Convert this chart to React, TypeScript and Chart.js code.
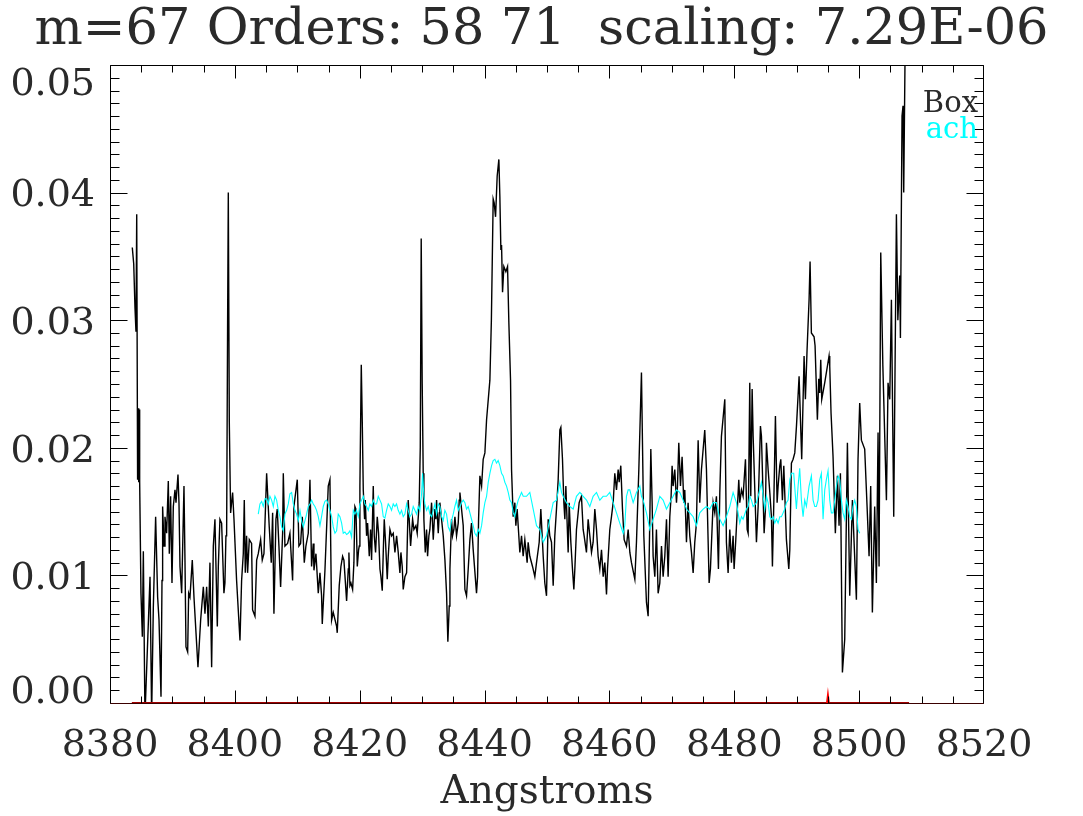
import React, { useEffect, useRef } from 'react';
import { Chart, registerables } from 'chart.js';

Chart.register(...registerables);

const titleText = 'm=67 Orders: 58 71  scaling: 7.29E-06';
const xAxisTitle = 'Angstroms';
const xMin = 8380;
const xMax = 8520;
const xMajorStep = 20;
const xMinorStep = 5;
const yMin = 0;
const yMax = 0.05;
const yMajorStep = 0.01;
const yMinorStep = 0.001;
const yTickValues = [0, 0.01, 0.02, 0.03, 0.04, 0.05];
const yTickLabels = ['0.00', '0.01', '0.02', '0.03', '0.04', '0.05'];
const seriesLabels = ['Box', 'ach'];
const seriesColors = ['#000000', '#00ffff'];
const maskColor = '#a00000';
const maskSpikeColor = '#ff0000';

const boxWave = [
  8383.57, 8383.80, 8384.00, 8384.16, 8384.28, 8384.42, 8384.50, 8384.60, 8384.70, 8384.75,
  8384.96, 8385.18, 8385.34, 8385.60, 8386.41, 8386.67, 8386.94, 8387.31, 8387.63, 8387.85,
  8388.01, 8388.17, 8388.33, 8388.43, 8388.65, 8388.81, 8389.07, 8389.34, 8389.50, 8389.71,
  8389.93, 8390.14, 8390.41, 8390.57, 8390.89, 8391.05, 8391.21, 8391.48, 8391.85, 8392.01,
  8392.17, 8392.44, 8392.60, 8392.81, 8393.18, 8393.45, 8394.09, 8394.52, 8394.95, 8395.21,
  8395.48, 8395.75, 8396.01, 8396.28, 8396.55, 8396.81, 8397.19, 8397.35, 8397.61, 8397.88,
  8398.25, 8398.41, 8398.57, 8398.68, 8398.84, 8398.95, 8399.11, 8399.32, 8399.64, 8399.86,
  8400.28, 8400.82, 8401.08, 8401.35, 8401.51, 8401.67, 8401.88, 8402.04, 8402.31, 8402.68,
  8402.84, 8403.22, 8403.49, 8403.75, 8404.13, 8404.39, 8404.66, 8405.09, 8405.51, 8405.83,
  8406.05, 8406.26, 8406.58, 8406.79, 8407.06, 8407.33, 8407.65, 8407.76, 8408.02, 8408.45,
  8408.82, 8409.25, 8409.46, 8410.00, 8410.26, 8410.53, 8410.80, 8411.12, 8411.38, 8411.76,
  8412.03, 8412.29, 8412.56, 8412.67, 8412.99, 8413.36, 8413.63, 8413.89, 8414.00, 8414.43,
  8414.96, 8415.23, 8415.50, 8415.76, 8416.30, 8416.40, 8416.72, 8416.99, 8417.26, 8417.47,
  8417.74, 8417.90, 8418.17, 8418.27, 8418.43, 8418.59, 8418.86, 8419.07, 8419.23, 8419.39,
  8419.50, 8419.61, 8419.82, 8419.93, 8420.03, 8420.25, 8420.41, 8420.57, 8420.78, 8420.89,
  8421.10, 8421.26, 8421.53, 8421.74, 8421.90, 8422.17, 8422.33, 8422.54, 8422.81, 8423.02,
  8423.24, 8423.40, 8423.61, 8423.77, 8423.93, 8424.14, 8424.41, 8424.57, 8424.84, 8425.10,
  8425.37, 8425.64, 8425.91, 8426.17, 8426.44, 8426.60, 8426.81, 8426.97, 8427.24, 8427.51,
  8427.77, 8428.04, 8428.15, 8428.47, 8428.68, 8429.00, 8429.21, 8429.53, 8429.70, 8429.85,
  8430.01, 8430.17, 8430.28, 8430.50, 8430.71, 8430.87, 8431.08, 8431.24, 8431.51, 8431.78,
  8432.04, 8432.20, 8432.31, 8432.58, 8432.74, 8432.84, 8433.11, 8433.38, 8433.65, 8433.91,
  8434.12, 8434.34, 8434.45, 8434.71, 8434.87, 8435.09, 8435.25, 8435.51, 8435.78, 8435.94,
  8436.05, 8436.31, 8436.58, 8436.85, 8437.11, 8437.38, 8437.65, 8437.91, 8438.18, 8438.71,
  8438.88, 8439.04, 8439.25, 8439.52, 8439.78, 8440.05, 8440.32, 8440.85, 8441.09, 8441.38,
  8441.54, 8441.76, 8442.02, 8442.29, 8442.45, 8442.61, 8442.72, 8442.88, 8443.09, 8443.41,
  8443.68, 8443.89, 8444.16, 8444.32, 8444.58, 8444.85, 8445.01, 8445.22, 8445.65, 8445.92,
  8446.18, 8446.45, 8446.82, 8446.98, 8447.25, 8447.68, 8448.05, 8448.32, 8448.75, 8449.01,
  8449.39, 8449.65, 8449.92, 8450.19, 8450.45, 8450.72, 8450.99, 8451.25, 8451.52, 8451.79,
  8452.06, 8452.22, 8452.48, 8452.70, 8452.86, 8453.02, 8453.39, 8453.55, 8453.82, 8454.08,
  8454.30, 8454.46, 8454.72, 8454.99, 8455.15, 8455.52, 8455.79, 8455.95, 8456.32, 8456.59,
  8456.86, 8457.13, 8457.39, 8457.66, 8457.93, 8458.19, 8458.46, 8458.73, 8459.00, 8459.26,
  8459.53, 8459.69, 8460.06, 8460.33, 8460.60, 8460.86, 8461.13, 8461.40, 8461.56, 8461.82,
  8462.09, 8462.36, 8462.73, 8463.00, 8463.27, 8463.53, 8464.07, 8464.33, 8464.71, 8465.13,
  8465.51, 8465.93, 8466.20, 8466.47, 8466.63, 8466.84, 8467.00, 8467.27, 8467.53, 8467.80,
  8468.07, 8468.34, 8468.60, 8468.87, 8469.14, 8469.40, 8469.67, 8469.88, 8470.04, 8470.20,
  8470.47, 8470.74, 8470.90, 8471.11, 8471.38, 8471.64, 8471.91, 8472.07, 8472.34, 8472.60,
  8472.87, 8473.14, 8473.41, 8473.67, 8473.94, 8474.21, 8474.47, 8474.74, 8475.27, 8475.54,
  8475.97, 8476.18, 8476.61, 8476.88, 8477.14, 8477.46, 8477.68, 8477.94, 8478.48, 8478.74,
  8479.01, 8479.28, 8479.54, 8479.81, 8479.97, 8480.24, 8480.72, 8480.88, 8481.15, 8481.41,
  8481.79, 8482.06, 8482.22, 8482.48, 8482.64, 8482.86, 8483.02, 8483.55, 8483.82, 8484.19,
  8484.35, 8484.78, 8484.99, 8485.15, 8485.42, 8485.69, 8485.95, 8486.11, 8486.33, 8486.59,
  8486.86, 8487.02, 8487.29, 8487.45, 8487.71, 8487.93, 8488.35, 8488.73, 8488.89, 8489.15,
  8489.42, 8489.69, 8489.96, 8490.38, 8490.80, 8491.18, 8491.39, 8491.66, 8491.98, 8492.14,
  8492.35, 8492.78, 8492.94, 8493.31, 8493.53, 8493.69, 8493.85, 8494.01, 8494.49, 8495.18,
  8495.29, 8495.50, 8495.82, 8496.19, 8496.52, 8496.78, 8497.00, 8497.32, 8497.69, 8497.85,
  8498.12, 8498.49, 8498.92, 8499.56, 8499.82, 8500.09, 8500.36, 8500.89, 8501.27, 8501.59,
  8501.85, 8502.12, 8502.49, 8502.76, 8503.03, 8503.19, 8503.46, 8503.80, 8504.37, 8504.63,
  8504.90, 8505.17, 8505.54, 8505.97, 8506.20, 8506.50, 8506.61, 8506.87, 8507.03, 8507.14,
  8507.38,
];

const boxFlux = [
  0.0357, 0.0344, 0.0310, 0.0291, 0.0383, 0.0175, 0.0231, 0.0173, 0.0230, 0.0174,
  0.0086, 0.0052, 0.0119, -0.0010, 0.0099, -0.0010, 0.0075, 0.0146, 0.0083, 0.0065,
  0.0035, 0.0005, 0.0096, 0.0154, 0.0123, 0.0146, 0.0133, 0.0174, 0.0117, 0.0162,
  0.0094, 0.0154, 0.0167, 0.0157, 0.0179, 0.0157, 0.0107, 0.0086, 0.0170, 0.0112,
  0.0044, 0.0040, 0.0086, 0.0083, 0.0112, 0.0083, 0.0028, 0.0065, 0.0091, 0.0070,
  0.0091, 0.0060, 0.0110, 0.0028, 0.0123, 0.0144, 0.0060, 0.0107, 0.0144, 0.0141,
  0.0086, 0.0094, 0.0131, 0.0131, 0.0300, 0.0400, 0.0220, 0.0149, 0.0165, 0.0144,
  0.0096, 0.0049, 0.0096, 0.0117, 0.0159, 0.0102, 0.0131, 0.0102, 0.0128, 0.0125,
  0.0073, 0.0068, 0.0112, 0.0117, 0.0128, 0.0112, 0.0117, 0.0180, 0.0138, 0.0110,
  0.0149, 0.0070, 0.0144, 0.0152, 0.0123, 0.0091, 0.0133, 0.0180, 0.0123, 0.0125,
  0.0133, 0.0096, 0.0154, 0.0175, 0.0123, 0.0125, 0.0146, 0.0110, 0.0123, 0.0133,
  0.0175, 0.0107, 0.0125, 0.0104, 0.0117, 0.0086, 0.0102, 0.0084, 0.0062, 0.0104,
  0.0170, 0.0175, 0.0065, 0.0071, 0.0060, 0.0055, 0.0092, 0.0107, 0.0115, 0.0112,
  0.0092, 0.0080, 0.0105, 0.0118, 0.0092, 0.0094, 0.0089, 0.0110, 0.0154, 0.0152,
  0.0131, 0.0107, 0.0120, 0.0123, 0.0170, 0.0265, 0.0220, 0.0167, 0.0144, 0.0159,
  0.0131, 0.0141, 0.0115, 0.0136, 0.0112, 0.0170, 0.0131, 0.0118, 0.0146, 0.0133,
  0.0105, 0.0099, 0.0088, 0.0118, 0.0144, 0.0126, 0.0097, 0.0115, 0.0136, 0.0131,
  0.0133, 0.0118, 0.0131, 0.0118, 0.0102, 0.0118, 0.0107, 0.0089, 0.0099, 0.0102,
  0.0159, 0.0133, 0.0123, 0.0144, 0.0136, 0.0139, 0.0133, 0.0157, 0.0200, 0.0364,
  0.0250, 0.0180, 0.0144, 0.0118, 0.0136, 0.0115, 0.0131, 0.0136, 0.0157, 0.0128,
  0.0152, 0.0144, 0.0159, 0.0133, 0.0149, 0.0157, 0.0144, 0.0131, 0.0112, 0.0086,
  0.0048, 0.0076, 0.0105, 0.0144, 0.0131, 0.0136, 0.0146, 0.0131, 0.0141, 0.0159,
  0.0165, 0.0152, 0.0139, 0.0089, 0.0084, 0.0105, 0.0128, 0.0141, 0.0120, 0.0086,
  0.0099, 0.0144, 0.0178, 0.0170, 0.0191, 0.0196, 0.0222, 0.0253, 0.0300, 0.0395,
  0.0392, 0.0381, 0.0413, 0.0426, 0.0397, 0.0355, 0.0359, 0.0322, 0.0342, 0.0338,
  0.0342, 0.0298, 0.0253, 0.0183, 0.0146, 0.0157, 0.0139, 0.0152, 0.0118, 0.0131,
  0.0115, 0.0128, 0.0110, 0.0126, 0.0115, 0.0107, 0.0099, 0.0110, 0.0126, 0.0152,
  0.0115, 0.0094, 0.0084, 0.0144, 0.0131, 0.0126, 0.0092, 0.0131, 0.0152, 0.0175,
  0.0214, 0.0216, 0.0191, 0.0157, 0.0144, 0.0170, 0.0118, 0.0157, 0.0126, 0.0105,
  0.0089, 0.0105, 0.0136, 0.0149, 0.0157, 0.0162, 0.0136, 0.0131, 0.0118, 0.0144,
  0.0131, 0.0118, 0.0126, 0.0152, 0.0136, 0.0115, 0.0105, 0.0120, 0.0099, 0.0110,
  0.0085, 0.0105, 0.0136, 0.0146, 0.0157, 0.0180, 0.0167, 0.0183, 0.0173, 0.0186,
  0.0152, 0.0128, 0.0123, 0.0136, 0.0118, 0.0110, 0.0097, 0.0126, 0.0183, 0.0259,
  0.0131, 0.0079, 0.0068, 0.0144, 0.0199, 0.0157, 0.0115, 0.0099, 0.0136, 0.0086,
  0.0094, 0.0123, 0.0099, 0.0115, 0.0144, 0.0099, 0.0146, 0.0162, 0.0186, 0.0170,
  0.0183, 0.0157, 0.0170, 0.0204, 0.0170, 0.0193, 0.0157, 0.0167, 0.0126, 0.0157,
  0.0131, 0.0118, 0.0102, 0.0126, 0.0141, 0.0206, 0.0157, 0.0183, 0.0214, 0.0183,
  0.0094, 0.0105, 0.0157, 0.0149, 0.0162, 0.0105, 0.0165, 0.0209, 0.0238, 0.0126,
  0.0102, 0.0136, 0.0110, 0.0131, 0.0105, 0.0128, 0.0175, 0.0157, 0.0167, 0.0162,
  0.0191, 0.0136, 0.0133, 0.0251, 0.0162, 0.0246, 0.0209, 0.0126, 0.0154, 0.0217,
  0.0209, 0.0133, 0.0152, 0.0204, 0.0183, 0.0165, 0.0146, 0.0107, 0.0157, 0.0225,
  0.0157, 0.0170, 0.0186, 0.0191, 0.0159, 0.0186, 0.0128, 0.0105, 0.0120, 0.0188,
  0.0191, 0.0196, 0.0217, 0.0256, 0.0191, 0.0272, 0.0238, 0.0277, 0.0316, 0.0346,
  0.0290, 0.0287, 0.0280, 0.0222, 0.0254, 0.0243, 0.0269, 0.0238, 0.0251, 0.0272,
  0.0264, 0.0227, 0.0193, 0.0133, 0.0178, 0.0139, 0.0180, 0.0024, 0.0050, 0.0107,
  0.0204, 0.0084, 0.0159, 0.0081, 0.0191, 0.0235, 0.0206, 0.0199, 0.0154, 0.0115,
  0.0170, 0.0071, 0.0154, 0.0094, 0.0212, 0.0107, 0.0353, 0.0264, 0.0159, 0.0251,
  0.0238, 0.0316, 0.0146, 0.0383, 0.0300, 0.0335, 0.0286, 0.0460, 0.0468, 0.0400,
  0.0520,
];

const achWave = [
  8403.75, 8404.02, 8404.29, 8404.55, 8404.82, 8405.09, 8405.35, 8405.62, 8405.89, 8406.16,
  8406.42, 8406.69, 8406.96, 8407.22, 8407.49, 8407.76, 8408.02, 8408.29, 8408.56, 8408.82,
  8409.09, 8409.36, 8409.62, 8409.89, 8410.16, 8410.43, 8410.69, 8410.96, 8411.23, 8411.49,
  8411.76, 8412.03, 8412.29, 8412.56, 8412.83, 8413.09, 8413.36, 8413.63, 8413.89, 8414.16,
  8414.43, 8414.70, 8414.96, 8415.23, 8415.50, 8415.76, 8416.03, 8416.30, 8416.56, 8416.83,
  8417.10, 8417.36, 8417.63, 8417.90, 8418.16, 8418.43, 8418.70, 8418.97, 8419.23, 8419.50,
  8419.77, 8420.03, 8420.30, 8420.57, 8420.83, 8421.10, 8421.37, 8421.63, 8421.90, 8422.17,
  8422.44, 8422.70, 8422.97, 8423.24, 8423.50, 8423.77, 8424.04, 8424.30, 8424.57, 8424.84,
  8425.10, 8425.37, 8425.64, 8425.90, 8426.17, 8426.44, 8426.70, 8426.97, 8427.24, 8427.51,
  8427.77, 8428.04, 8428.31, 8428.57, 8428.84, 8429.11, 8429.37, 8429.64, 8429.91, 8430.07,
  8430.28, 8430.44, 8430.71, 8430.98, 8431.24, 8431.51, 8431.78, 8432.04, 8432.31, 8432.58,
  8432.84, 8433.11, 8433.38, 8433.64, 8433.91, 8434.18, 8434.44, 8434.71, 8434.98, 8435.24,
  8435.51, 8435.78, 8436.05, 8436.31, 8436.58, 8436.85, 8437.11, 8437.38, 8437.65, 8437.91,
  8438.18, 8438.45, 8438.71, 8438.98, 8439.25, 8439.52, 8439.78, 8440.05, 8440.32, 8440.59,
  8440.85, 8441.12, 8441.38, 8441.65, 8441.92, 8442.18, 8442.45, 8442.72, 8442.98, 8443.25,
  8443.52, 8443.79, 8444.05, 8444.32, 8444.59, 8444.85, 8445.12, 8445.39, 8445.92, 8446.19,
  8446.72, 8447.25, 8447.79, 8448.32, 8448.85, 8449.39, 8449.92, 8450.45, 8450.99, 8451.52,
  8452.06, 8452.32, 8452.59, 8453.12, 8453.66, 8454.19, 8454.72, 8455.26, 8455.79, 8456.33,
  8456.86, 8457.39, 8457.93, 8458.46, 8458.99, 8459.53, 8460.06, 8460.60, 8461.13, 8461.66,
  8462.20, 8462.46, 8462.73, 8463.00, 8463.26, 8463.53, 8463.80, 8464.33, 8464.87, 8465.13,
  8465.40, 8465.93, 8466.47, 8467.00, 8467.53, 8468.07, 8468.60, 8469.14, 8469.67, 8470.20,
  8470.74, 8471.27, 8471.80, 8472.34, 8472.87, 8473.41, 8473.94, 8474.47, 8475.01, 8475.54,
  8476.07, 8476.61, 8477.14, 8477.68, 8478.21, 8478.74, 8479.28, 8479.81, 8480.34, 8480.88,
  8481.15, 8481.41, 8481.95, 8482.22, 8482.48, 8482.75, 8483.02, 8483.55, 8484.08, 8484.35,
  8484.62, 8484.88, 8485.15, 8485.42, 8485.69, 8485.95, 8486.22, 8486.49, 8486.75, 8487.02,
  8487.29, 8487.55, 8487.82, 8488.09, 8488.35, 8488.62, 8488.89, 8489.15, 8489.52, 8489.95,
  8490.22, 8490.48, 8490.75, 8491.02, 8491.28, 8491.55, 8491.98, 8492.35, 8492.62, 8492.89,
  8493.15, 8493.42, 8493.69, 8493.95, 8494.22, 8494.49, 8494.75, 8495.02, 8495.29, 8495.55,
  8495.82, 8496.09, 8496.36, 8496.62, 8496.89, 8497.16, 8497.42, 8497.69, 8497.96, 8498.22,
  8498.49, 8498.76, 8499.02, 8499.29, 8499.56, 8499.82, 8500.09,
];

const achFlux = [
  0.0148, 0.0156, 0.0158, 0.0154, 0.0160, 0.0160, 0.0156, 0.0162, 0.0159, 0.0154,
  0.0162, 0.0159, 0.0151, 0.0146, 0.0138, 0.0135, 0.0148, 0.0151, 0.0156, 0.0164,
  0.0165, 0.0156, 0.0151, 0.0148, 0.0143, 0.0151, 0.0143, 0.0138, 0.0143, 0.0148,
  0.0154, 0.0156, 0.0159, 0.0156, 0.0154, 0.0151, 0.0146, 0.0139, 0.0146, 0.0154,
  0.0158, 0.0159, 0.0156, 0.0151, 0.0146, 0.0138, 0.0133, 0.0135, 0.0148, 0.0146,
  0.0141, 0.0133, 0.0134, 0.0132, 0.0133, 0.0135, 0.0130, 0.0151, 0.0148, 0.0151,
  0.0146, 0.0156, 0.0159, 0.0162, 0.0156, 0.0154, 0.0151, 0.0156, 0.0154, 0.0159,
  0.0156, 0.0156, 0.0162, 0.0159, 0.0156, 0.0146, 0.0145, 0.0151, 0.0156, 0.0154,
  0.0151, 0.0156, 0.0154, 0.0156, 0.0151, 0.0148, 0.0151, 0.0146, 0.0148, 0.0156,
  0.0151, 0.0146, 0.0148, 0.0154, 0.0151, 0.0148, 0.0154, 0.0151, 0.0164, 0.0180,
  0.0162, 0.0156, 0.0151, 0.0154, 0.0148, 0.0146, 0.0151, 0.0156, 0.0148, 0.0156,
  0.0154, 0.0146, 0.0143, 0.0151, 0.0148, 0.0138, 0.0135, 0.0143, 0.0148, 0.0154,
  0.0159, 0.0151, 0.0154, 0.0157, 0.0159, 0.0157, 0.0152, 0.0154, 0.0149, 0.0144,
  0.0139, 0.0133, 0.0131, 0.0136, 0.0133, 0.0139, 0.0149, 0.0157, 0.0162, 0.0173,
  0.0180, 0.0186, 0.0190, 0.0191, 0.0188, 0.0190, 0.0186, 0.0180, 0.0178, 0.0173,
  0.0170, 0.0165, 0.0159, 0.0157, 0.0149, 0.0146, 0.0154, 0.0159, 0.0165, 0.0162,
  0.0162, 0.0165, 0.0152, 0.0139, 0.0136, 0.0126, 0.0131, 0.0144, 0.0157, 0.0159,
  0.0173, 0.0165, 0.0162, 0.0157, 0.0154, 0.0152, 0.0162, 0.0165, 0.0162, 0.0159,
  0.0154, 0.0162, 0.0165, 0.0159, 0.0162, 0.0162, 0.0165, 0.0157, 0.0149, 0.0141,
  0.0133, 0.0139, 0.0162, 0.0167, 0.0167, 0.0162, 0.0157, 0.0165, 0.0170, 0.0162,
  0.0159, 0.0149, 0.0136, 0.0144, 0.0152, 0.0162, 0.0159, 0.0152, 0.0157, 0.0162,
  0.0167, 0.0165, 0.0159, 0.0152, 0.0149, 0.0146, 0.0139, 0.0149, 0.0152, 0.0154,
  0.0152, 0.0157, 0.0157, 0.0144, 0.0139, 0.0146, 0.0154, 0.0165, 0.0157, 0.0141,
  0.0146, 0.0144, 0.0152, 0.0154, 0.0162, 0.0159, 0.0154, 0.0157, 0.0167, 0.0173,
  0.0162, 0.0152, 0.0162, 0.0157, 0.0146, 0.0144, 0.0146, 0.0141, 0.0144, 0.0141,
  0.0146, 0.0146, 0.0149, 0.0152, 0.0157, 0.0159, 0.0175, 0.0180, 0.0180, 0.0152,
  0.0170, 0.0184, 0.0159, 0.0146, 0.0159, 0.0154, 0.0170, 0.0178, 0.0159, 0.0154,
  0.0154, 0.0159, 0.0175, 0.0180, 0.0144, 0.0167, 0.0175, 0.0182, 0.0159, 0.0149,
  0.0149, 0.0159, 0.0170, 0.0178, 0.0175, 0.0159, 0.0149, 0.0144, 0.0159, 0.0154,
  0.0146, 0.0144, 0.0154, 0.0159, 0.0154, 0.0136, 0.0133,
];

const maskWave = [8383.5, 8494.85, 8495.0, 8495.15, 8508.0];
const maskFlux = [0, 0, 0.0006, 0, 0];

const FONT = '"DejaVu Serif", "Liberation Serif", serif';
const TEXT_COLOR = '#2a2a2a';
const TICK_FONT_SIZE = 38;

const idlFrame = {
  id: 'idlFrame',
  afterDatasetsDraw(chart: any) {
    const { ctx, chartArea: a, scales } = chart;
    const xs = scales.x;
    const ys = scales.y;
    const L = Math.round(a.left) + 0.5;
    const R = Math.round(a.right) - 0.5;
    const T = Math.round(a.top) + 0.5;
    const B = Math.round(a.bottom) + 0.5;
    ctx.save();
    ctx.strokeStyle = '#000';
    ctx.lineWidth = 1;
    ctx.beginPath();
    ctx.moveTo(L, B);
    ctx.lineTo(L, T);
    ctx.lineTo(R, T);
    ctx.lineTo(R, B);
    const nx = Math.round((xMax - xMin) / xMinorStep);
    const perMajorX = Math.round(xMajorStep / xMinorStep);
    for (let i = 0; i <= nx; i++) {
      const v = xMin + i * xMinorStep;
      const px = Math.min(R, Math.max(L, Math.round(xs.getPixelForValue(v)) + 0.5));
      const len = i % perMajorX === 0 ? 13 : 7;
      ctx.moveTo(px, B);
      ctx.lineTo(px, B - len);
      ctx.moveTo(px, T);
      ctx.lineTo(px, T + len);
    }
    const ny = Math.round((yMax - yMin) / yMinorStep);
    const perMajorY = Math.round(yMajorStep / yMinorStep);
    for (let j = 0; j <= ny; j++) {
      const v = yMin + j * yMinorStep;
      const py = Math.min(B, Math.max(T, Math.round(ys.getPixelForValue(v)) + 0.5));
      const len = j % perMajorY === 0 ? 17 : 9;
      ctx.moveTo(L, py);
      ctx.lineTo(L + len, py);
      ctx.moveTo(R, py);
      ctx.lineTo(R - len, py);
    }
    ctx.stroke();

    // bottom frame edge, partly covered by the dark-red mask line as in the original
    ctx.beginPath();
    ctx.strokeStyle = '#3a0000';
    ctx.moveTo(L, B);
    ctx.lineTo(R, B);
    ctx.stroke();

    ctx.font = `${TICK_FONT_SIZE}px ${FONT}`;
    ctx.fillStyle = TEXT_COLOR;
    ctx.textAlign = 'right';
    ctx.textBaseline = 'alphabetic';
    const dh = TICK_FONT_SIZE * 0.729;
    yTickValues.forEach((v, k) => {
      const py = ys.getPixelForValue(v);
      let base = py + dh / 2;
      base = Math.max(base, a.top + dh + 2);
      base = Math.min(base, a.bottom);
      ctx.fillText(yTickLabels[k], a.left - 15, base);
    });

    ctx.font = `29px ${FONT}`;
    seriesLabels.forEach((lab, k) => {
      ctx.fillStyle = k === 0 ? TEXT_COLOR : seriesColors[k];
      ctx.fillText(lab, a.right - 6, a.top + 47 + 26 * k);
    });
    ctx.restore();
  },
};

export default function App() {
  const ref = useRef<HTMLCanvasElement | null>(null);

  useEffect(() => {
    if (!ref.current) return;
    const chart = new Chart(ref.current, {
      type: 'line',
      data: {
        datasets: [
          {
            label: seriesLabels[0],
            data: boxWave.map((w, i) => ({ x: w, y: boxFlux[i] })),
            borderColor: seriesColors[0],
            borderWidth: 1.4,
            pointRadius: 0,
            tension: 0,
            order: 1,
          },
          {
            label: seriesLabels[1],
            data: achWave.map((w, i) => ({ x: w, y: achFlux[i] })),
            borderColor: seriesColors[1],
            borderWidth: 1.1,
            pointRadius: 0,
            tension: 0,
            order: 0,
          },
          {
            label: 'mask',
            data: maskWave.map((w, i) => ({ x: w, y: maskFlux[i] })),
            borderColor: maskColor,
            borderWidth: 2,
            pointRadius: 0,
            tension: 0,
            order: -1,
            segment: {
              borderColor: (c: any) =>
                c.p0.parsed.y > 0 || c.p1.parsed.y > 0 ? maskSpikeColor : maskColor,
            },
          },
        ],
      },
      options: {
        responsive: false,
        animation: false,
        events: [],
        layout: { padding: 0 },
        plugins: {
          legend: { display: false },
          tooltip: { enabled: false },
          title: {
            display: true,
            text: titleText,
            color: TEXT_COLOR,
            font: { family: FONT, size: 51, weight: 'normal', lineHeight: 1 },
            padding: { top: 5, bottom: 9 },
          },
        },
        scales: {
          x: {
            type: 'linear',
            min: xMin,
            max: xMax,
            grid: { display: false, drawTicks: false },
            border: { display: false },
            ticks: {
              stepSize: xMajorStep,
              autoSkip: false,
              maxRotation: 0,
              padding: 20,
              color: TEXT_COLOR,
              font: { family: FONT, size: TICK_FONT_SIZE },
              callback: (v: any) => String(v),
            },
            title: {
              display: true,
              text: xAxisTitle,
              color: TEXT_COLOR,
              font: { family: FONT, size: 39, lineHeight: 1.2 },
              padding: 0,
            },
            afterFit: (s: any) => {
              s.height = 113;
            },
          },
          y: {
            type: 'linear',
            position: 'left',
            min: yMin,
            max: yMax,
            grid: { display: false, drawTicks: false },
            border: { display: false },
            ticks: { display: false },
            afterFit: (s: any) => {
              s.width = 110;
            },
          },
          y2: {
            type: 'linear',
            position: 'right',
            min: yMin,
            max: yMax,
            grid: { display: false, drawTicks: false },
            border: { display: false },
            ticks: { display: false },
            afterFit: (s: any) => {
              s.width = 99;
            },
          },
        },
      },
      plugins: [idlFrame],
    } as any);
    return () => chart.destroy();
  }, []);

  return (
    <div style={{ position: 'absolute', left: 0, top: 0, width: 1083, height: 816, background: '#fff' }}>
      <canvas ref={ref} width={1083} height={816} style={{ display: 'block' }} />
    </div>
  );
}
